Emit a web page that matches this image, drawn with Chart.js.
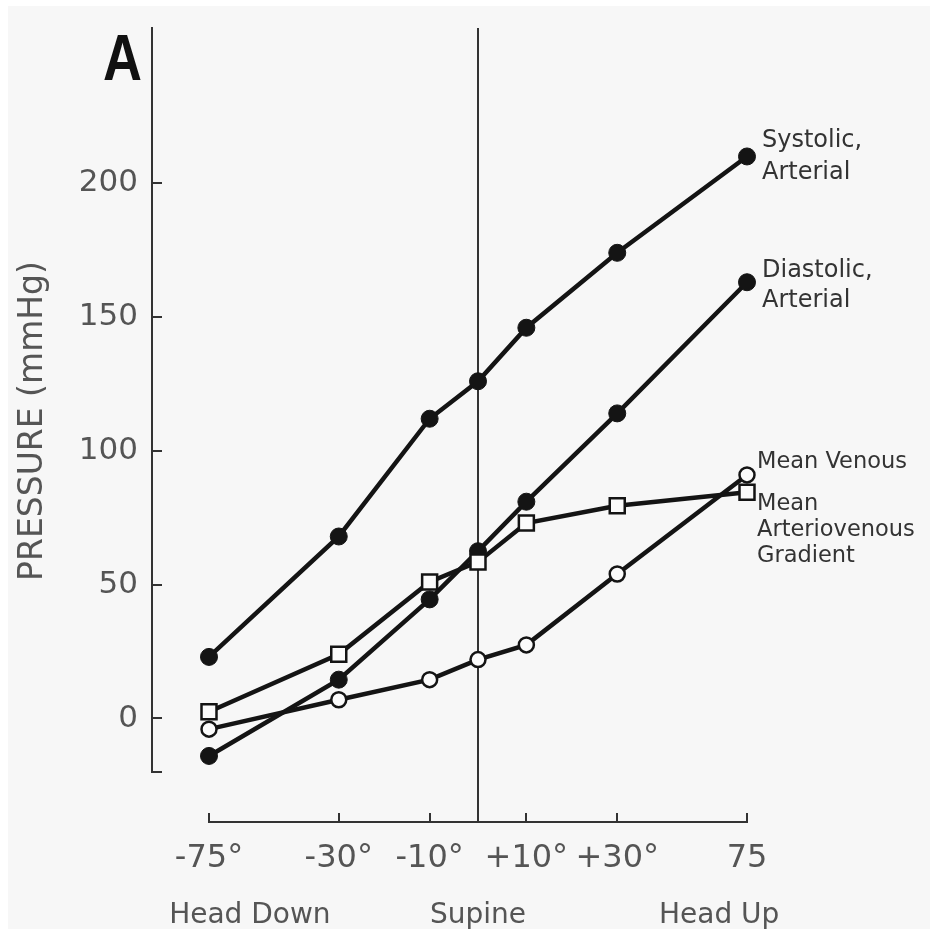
<!DOCTYPE html>
<html>
<head>
<meta charset="utf-8">
<script src="https://cdn.jsdelivr.net/npm/chart.js@4/dist/chart.umd.min.js"></script>
<style>
html, body { margin: 0; padding: 0; background: #ffffff; }
#bg { position: absolute; left: 8px; top: 6px; width: 922px; height: 923px; background: #f7f7f7; }
#wrap { position: absolute; left: 0; top: 0; width: 930px; height: 929px; }
canvas { display: block; }
</style>
</head>
<body>
<div id="bg"></div>
<div id="wrap"><canvas id="c" width="930" height="929"></canvas></div>
<script>
// ---------- data ----------
const tiltAngles        = [-75, -30, -10, 0, 10, 30, 75];
const systolicArterial  = [23, 68, 112, 126, 146, 174, 210];
const diastolicArterial = [-14, 14.5, 44.5, 62.5, 81, 114, 163];
const meanVenous        = [-4, 7, 14.5, 22, 27.5, 54, 91];
const meanAVGradient    = [2.5, 24, 51, 58.5, 73, 79.5, 84.5];

const xTickValues = [-75, -30, -10, 0, 10, 30, 75];
const xTickLabels = ['-75°', '-30°', '-10°', '', '+10°', '+30°', '75'];
const positionTickValues = [-55, 0, 60];
const positionTickLabels = ['Head Down', 'Supine', 'Head Up'];
const yTickValues = [-20, 0, 50, 100, 150, 200];
const yTickLabels = ['', '0', '50', '100', '150', '200'];

const labelSystolic  = ['Systolic,', 'Arterial'];
const labelDiastolic = ['Diastolic,', 'Arterial'];
const labelVenous    = ['Mean Venous'];
const labelAV        = ['Mean', 'Arteriovenous', 'Gradient'];

const yAxisTitle = 'PRESSURE (mmHg)';
const panelLetter = 'A';

// ---------- a tilt scale: positions follow sin(angle), as in the figure ----------
const rad = d => d * Math.PI / 180;
class TiltSineScale extends Chart.LinearScale {
  static id = 'tiltSine';
  configure() {
    super.configure();
    const a = Math.sin(rad(this.min)), b = Math.sin(rad(this.max));
    this._startValue = a;
    this._endValue = b;
    this._valueRange = b - a;
    const pad = this.options.padStart || 0;
    this._startPixel += pad;
    this._length = this._endPixel - this._startPixel;
  }
  getPixelForValue(v) {
    if (v === null || v === undefined || isNaN(v)) return NaN;
    return this.getPixelForDecimal((Math.sin(rad(v)) - this._startValue) / this._valueRange);
  }
  getValueForPixel(p) {
    const s = this._startValue + this.getDecimalForPixel(p) * this._valueRange;
    return Math.asin(Math.max(-1, Math.min(1, s))) * 180 / Math.PI;
  }
  drawBorder() {
    const b = this.options.border;
    if (!b.display) return;
    let y = this._borderValue;
    const pos = this.options.position;
    if ((y === undefined || isNaN(y)) && typeof pos === 'object') {
      const k = Object.keys(pos)[0];
      y = this.chart.scales[k].getPixelForValue(pos[k]);
    }
    const x1 = this.getPixelForValue(this.min), x2 = this.getPixelForValue(this.max);
    const ctx = this.ctx;
    ctx.save();
    ctx.lineWidth = b.width;
    ctx.strokeStyle = b.color;
    ctx.beginPath();
    ctx.moveTo(x1 - b.width / 2, y);
    ctx.lineTo(x2 + b.width / 2, y);
    ctx.stroke();
    ctx.restore();
  }
}
Chart.register(TiltSineScale);

const FONT = '"DejaVu Sans", "Liberation Sans", sans-serif';
const INK = '#141414';
const AXIS = '#333333';
const TEXT = '#555555';
const xAxisAt = -38.7;   // pressure level where the tilt axis is drawn

// ---------- plugins ----------
const supineLine = {
  id: 'supineLine',
  beforeDatasetsDraw(chart, args, opts) {
    const ctx = chart.ctx;
    const x = chart.scales.x.getPixelForValue(opts.angle);
    const y2 = chart.scales.y.getPixelForValue(opts.to);
    ctx.save();
    ctx.strokeStyle = opts.color;
    ctx.lineWidth = opts.width;
    ctx.beginPath();
    ctx.moveTo(x, chart.chartArea.top);
    ctx.lineTo(x, y2);
    ctx.stroke();
    ctx.restore();
  }
};

const endLabels = {
  id: 'endLabels',
  afterDatasetsDraw(chart, args, opts) {
    const ctx = chart.ctx;
    chart.data.datasets.forEach((ds, i) => {
      const meta = chart.getDatasetMeta(i);
      const pt = meta.data[meta.data.length - 1];
      const st = opts.styles[i];
      ctx.save();
      ctx.font = st.size + 'px ' + FONT;
      ctx.fillStyle = opts.color;
      ctx.textAlign = 'left';
      ctx.textBaseline = 'middle';
      ds.endLabel.forEach((line, j) => {
        ctx.fillText(line, pt.x + st.dx, pt.y + st.dy + j * st.lh);
      });
      ctx.restore();
    });
  }
};

const panelMark = {
  id: 'panelMark',
  afterDraw(chart, args, opts) {
    const ctx = chart.ctx;
    ctx.save();
    ctx.font = 'bold ' + opts.size + 'px "Liberation Sans", sans-serif';
    ctx.fillStyle = opts.color;
    ctx.textAlign = 'left';
    ctx.textBaseline = 'alphabetic';
    ctx.translate(opts.x, opts.y);
    ctx.scale(opts.squeeze, 1);
    ctx.fillText(opts.text, 0, 0);
    ctx.restore();
  }
};

const toPoints = vals => tiltAngles.map((a, i) => ({ x: a, y: vals[i] }));

const lineStyle = { borderColor: INK, borderWidth: 4.5, tension: 0, clip: false, xAxisID: 'x', yAxisID: 'y' };

new Chart(document.getElementById('c'), {
  type: 'line',
  data: {
    datasets: [
      Object.assign({ label: 'Mean Arteriovenous Gradient', data: toPoints(meanAVGradient), endLabel: labelAV,
        pointStyle: 'rect', pointRadius: 10.6, pointBackgroundColor: '#fbfbfb', pointBorderColor: INK, pointBorderWidth: 2.5 }, lineStyle),
      Object.assign({ label: 'Mean Venous', data: toPoints(meanVenous), endLabel: labelVenous,
        pointStyle: 'circle', pointRadius: 7.5, pointBackgroundColor: '#fbfbfb', pointBorderColor: INK, pointBorderWidth: 2.5 }, lineStyle),
      Object.assign({ label: 'Systolic, Arterial', data: toPoints(systolicArterial), endLabel: labelSystolic,
        pointStyle: 'circle', pointRadius: 8.5, pointBackgroundColor: INK, pointBorderColor: INK, pointBorderWidth: 1 }, lineStyle),
      Object.assign({ label: 'Diastolic, Arterial', data: toPoints(diastolicArterial), endLabel: labelDiastolic,
        pointStyle: 'circle', pointRadius: 8.5, pointBackgroundColor: INK, pointBorderColor: INK, pointBorderWidth: 1 }, lineStyle)
    ]
  },
  options: {
    responsive: false,
    animation: false,
    devicePixelRatio: 1,
    events: [],
    layout: { padding: { left: 0, top: 28, right: 183, bottom: 157 } },
    scales: {
      y: {
        type: 'linear', min: -20, max: 258, bounds: 'data',
        afterBuildTicks: s => { s.ticks = yTickValues.map(v => ({ value: v })); },
        afterFit: s => { s.width = 152; s.paddingTop = 0; s.paddingBottom = 0; },
        ticks: {
          autoSkip: false, padding: 24, color: TEXT,
          font: { family: FONT, size: 31 },
          callback: v => { const i = yTickValues.indexOf(v); return i >= 0 ? yTickLabels[i] : ''; }
        },
        grid: { drawOnChartArea: false, drawTicks: true, tickLength: -10, lineWidth: 2, color: AXIS },
        border: { display: true, width: 2, color: AXIS },
        title: { display: true, text: yAxisTitle + '    ', color: TEXT, font: { family: FONT, size: 33 }, padding: { top: 14, bottom: 0 } }
      },
      x: {
        type: 'tiltSine', min: -75, max: 75, bounds: 'data', padStart: 57,
        position: { y: xAxisAt },
        afterBuildTicks: s => { s.ticks = xTickValues.map(v => ({ value: v })); },
        afterFit: s => { s.height = 0; },
        ticks: {
          autoSkip: false, maxRotation: 0, minRotation: 0, padding: 27, color: TEXT,
          font: { family: FONT, size: 32 },
          callback: v => { const i = xTickValues.indexOf(v); return i >= 0 ? xTickLabels[i] : ''; }
        },
        grid: { drawOnChartArea: false, drawTicks: true, tickLength: -10, lineWidth: 2, color: AXIS },
        border: { display: true, width: 2, color: AXIS }
      },
      x2: {
        type: 'tiltSine', axis: 'x', min: -75, max: 75, bounds: 'data', padStart: 57,
        position: { y: xAxisAt },
        afterBuildTicks: s => { s.ticks = positionTickValues.map(v => ({ value: v })); },
        afterFit: s => { s.height = 0; },
        ticks: {
          autoSkip: false, maxRotation: 0, minRotation: 0, padding: 69, color: TEXT,
          font: { family: FONT, size: 28 },
          callback: v => { const i = positionTickValues.indexOf(v); return i >= 0 ? positionTickLabels[i] : ''; }
        },
        grid: { display: false },
        border: { display: false }
      }
    },
    plugins: {
      legend: { display: false },
      title: { display: false },
      tooltip: { enabled: false },
      supineLine: { angle: 0, to: xAxisAt, color: AXIS, width: 2 },
      endLabels: {
        color: '#333333',
        styles: [
          { size: 22.5, dx: 10, dy: 12, lh: 26 },
          { size: 22.5, dx: 10, dy: -13, lh: 26 },
          { size: 24, dx: 15, dy: -15.5, lh: 32 },
          { size: 24, dx: 15, dy: -11, lh: 30 }
        ]
      },
      panelMark: { text: panelLetter, x: 103, y: 80, size: 65, squeeze: 0.83, color: '#111111' }
    }
  },
  plugins: [supineLine, endLabels, panelMark]
});
</script>
</body>
</html>
